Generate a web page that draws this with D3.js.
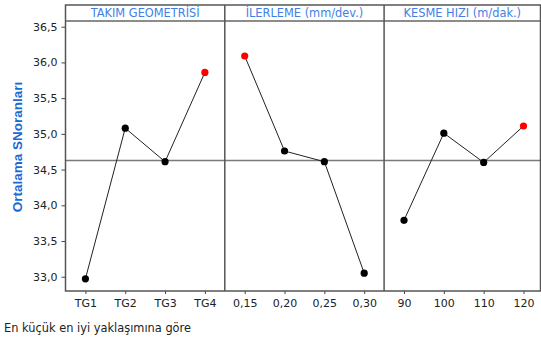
<!DOCTYPE html>
<html>
<head>
<meta charset="utf-8">
<script src="https://cdn.jsdelivr.net/npm/d3@7"></script>
<style>
  html, body { margin: 0; padding: 0; background: #fff; }
  svg { display: block; font-family: "DejaVu Sans", Verdana, sans-serif; }
</style>
</head>
<body>
<svg id="chart" width="541" height="340"></svg>
<script>
// Factor names shown in the panel headers
const factors = ["TAKIM GEOMETRİSİ", "İLERLEME (mm/dev.)", "KESME HIZI (m/dak.)"];

// Levels of each factor
const levelsTakim = ["TG1", "TG2", "TG3", "TG4"];
const levelsIlerleme = ["0,15", "0,20", "0,25", "0,30"];
const levelsKesme = ["90", "100", "110", "120"];

// Mean S/N ratio at each level
const snTakim = [32.97, 35.08, 34.61, 35.86];
const snIlerleme = [36.09, 34.76, 34.61, 33.05];
const snKesme = [33.79, 35.01, 34.60, 35.11];

// Y axis ticks
const yTicks = [33.0, 33.5, 34.0, 34.5, 35.0, 35.5, 36.0, 36.5];

const panels = [
  { title: factors[0], levels: levelsTakim, values: snTakim },
  { title: factors[1], levels: levelsIlerleme, values: snIlerleme },
  { title: factors[2], levels: levelsKesme, values: snKesme }
];

// Overall mean of all S/N values (reference line)
const grandMean = d3.mean(panels.flatMap(p => p.values));

const svg = d3.select("#chart");
const plotLeft = 65.5, plotRight = 540.5, plotTop = 5, headerBottom = 21, plotBottom = 291;
const panelWidth = 159.3;

const y = d3.scaleLinear().domain([32.8, 36.58]).range([plotBottom, headerBottom]);

const panelScale = d3.scaleLinear().domain([0, 1]).range([plotLeft, plotLeft + panelWidth]);

const fmt = v => d3.format(".1f")(v).replace(".", ",");

// Y axis
const yAxis = svg.append("g")
  .attr("transform", `translate(${plotLeft},0)`)
  .call(d3.axisLeft(y).tickValues(yTicks).tickFormat(fmt).tickSize(4).tickPadding(4));
yAxis.select(".domain").remove();
yAxis.selectAll("line").attr("stroke", "#444");
yAxis.selectAll("text")
  .attr("font-size", 11)
  .attr("fill", "#222")
  .attr("font-family", "DejaVu Sans, Verdana, sans-serif");

// Y axis title
svg.append("text")
  .attr("transform", "translate(22,147) rotate(-90)")
  .attr("text-anchor", "middle")
  .attr("font-size", 13.5)
  .attr("font-weight", "bold")
  .attr("fill", "#1a6ad6")
  .attr("font-family", "Liberation Sans, Arial, sans-serif")
  .text("Ortalama SNoranları");

// Grand mean reference line
svg.append("line")
  .attr("x1", plotLeft).attr("x2", plotRight)
  .attr("y1", y(grandMean)).attr("y2", y(grandMean))
  .attr("stroke", "#7a7a7a").attr("stroke-width", 1.5);

panels.forEach((p, i) => {
  const x0 = panelScale(i), x1 = panelScale(i + 1);
  const x = d3.scalePoint().domain(p.levels).range([x0, x1]).padding(0.5);
  const xMid = (x0 + Math.min(x1, plotRight)) / 2;

  // header label
  svg.append("text")
    .attr("x", xMid)
    .attr("y", 17)
    .attr("text-anchor", "middle")
    .attr("font-size", 11.4)
    .attr("fill", "#3f7fe6")
    .text(p.title);

  // X axis
  const xAxis = svg.append("g")
    .attr("transform", `translate(0,${plotBottom})`)
    .call(d3.axisBottom(x).tickSize(3).tickPadding(5));
  xAxis.select(".domain").remove();
  xAxis.selectAll("line").attr("stroke", "#444");
  xAxis.selectAll("text")
    .attr("font-size", 11)
    .attr("fill", "#222")
    .attr("font-family", "DejaVu Sans, Verdana, sans-serif");

  // connecting line
  const line = d3.line().x((d, j) => x(p.levels[j])).y(d => y(d));
  svg.append("path")
    .datum(p.values)
    .attr("d", line)
    .attr("fill", "none")
    .attr("stroke", "#222")
    .attr("stroke-width", 1);

  // level points; the best (largest) level is marked in red
  const best = d3.max(p.values);
  svg.selectAll(null)
    .data(p.values)
    .join("circle")
    .attr("cx", (d, j) => x(p.levels[j]))
    .attr("cy", d => y(d))
    .attr("r", 3.6)
    .attr("fill", d => d === best ? "#ff0000" : "#000");
});

// Frame, header separator and panel dividers
svg.append("rect")
  .attr("x", plotLeft).attr("y", plotTop)
  .attr("width", plotRight - plotLeft).attr("height", plotBottom - plotTop)
  .attr("fill", "none").attr("stroke", "#555").attr("stroke-width", 1.5);
svg.append("line")
  .attr("x1", plotLeft).attr("x2", plotRight)
  .attr("y1", headerBottom).attr("y2", headerBottom)
  .attr("stroke", "#666").attr("stroke-width", 1.5);
for (let i = 1; i < panels.length; i++) {
  const xv = panelScale(i);
  svg.append("line")
    .attr("x1", xv).attr("x2", xv)
    .attr("y1", plotTop).attr("y2", plotBottom)
    .attr("stroke", "#555").attr("stroke-width", 1.5);
}

// Footnote
svg.append("text")
  .attr("x", 4).attr("y", 332)
  .attr("font-size", 11.4)
  .attr("fill", "#222")
  .text("En küçük en iyi yaklaşımına göre");
</script>
</body>
</html>
